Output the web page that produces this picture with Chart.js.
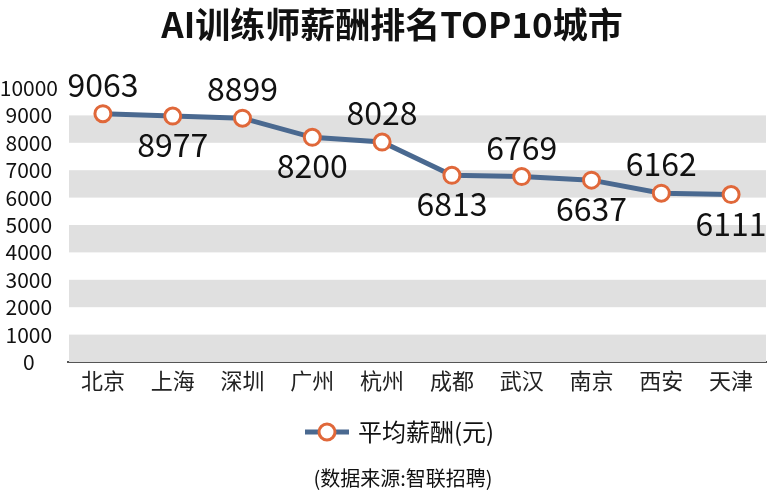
<!DOCTYPE html>
<html>
<head>
<meta charset="utf-8">
<script src="https://cdn.jsdelivr.net/npm/chart.js@4.4.0/dist/chart.umd.min.js"></script>
<style>
  html, body { margin: 0; padding: 0; background: #fff; overflow: hidden; }
  #grafico { display: block; }
</style>
</head>
<body>
<canvas id="grafico" width="768" height="501"></canvas>
<script>
const ciudades = ["北京", "上海", "深圳", "广州", "杭州", "成都", "武汉", "南京", "西安", "天津"];
const salarios = [9063, 8977, 8899, 8200, 8028, 6813, 6769, 6637, 6162, 6111];
const ticksY = [0, 1000, 2000, 3000, 4000, 5000, 6000, 7000, 8000, 9000, 10000];
const titulo = "AI训练师薪酬排名TOP10城市";
const serie = "平均薪酬(元)";
const fuente = "(数据来源:智联招聘)";

const FONT = "'Noto Sans CJK SC', 'Noto Sans', sans-serif";
const LINEA = "#4a6990";
const NARANJA = "#e0683a";

Chart.defaults.font.family = FONT;

// franjas grises alternas
const franjas = {
  id: "franjas",
  beforeDatasetsDraw(chart) {
    const { ctx, chartArea, scales } = chart;
    ctx.save();
    ctx.fillStyle = "#e0e0e0";
    for (let i = 0; i < ticksY.length - 1; i += 2) {
      const y1 = scales.y.getPixelForValue(ticksY[i]);
      const y2 = scales.y.getPixelForValue(ticksY[i + 1]);
      ctx.fillRect(chartArea.left + 1, y2, chartArea.right - chartArea.left - 1, y1 - y2);
    }
    ctx.restore();
  }
};

// etiquetas, titulo, leyenda y fuente
const textos = {
  id: "textos",
  afterDatasetsDraw(chart) {
    const { ctx } = chart;
    const meta = chart.getDatasetMeta(0);
    ctx.save();
    ctx.fillStyle = "#111";
    ctx.font = "32px " + FONT;
    ctx.textAlign = "center";
    ctx.textBaseline = "middle";
    meta.data.forEach((p, i) => {
      const dy = i % 2 === 0 ? -29 : 29;
      ctx.fillText(salarios[i], p.x, p.y + dy);
    });

    ctx.font = "bold 35px " + FONT;
    ctx.fillText(titulo, 392, 25);

    // leyenda
    ctx.strokeStyle = LINEA;
    ctx.lineWidth = 5;
    ctx.beginPath();
    ctx.moveTo(305, 432);
    ctx.lineTo(349, 432);
    ctx.stroke();
    ctx.beginPath();
    ctx.arc(327, 432, 8, 0, Math.PI * 2);
    ctx.fillStyle = "#fff";
    ctx.fill();
    ctx.strokeStyle = NARANJA;
    ctx.lineWidth = 3;
    ctx.stroke();
    ctx.fillStyle = "#111";
    ctx.textAlign = "left";
    ctx.font = "24px " + FONT;
    ctx.fillText(serie, 358, 432);

    ctx.textAlign = "center";
    ctx.font = "20px " + FONT;
    ctx.fillText(fuente, 403, 478);
    ctx.restore();
  }
};

new Chart(document.getElementById("grafico").getContext("2d"), {
  type: "line",
  data: {
    labels: ciudades,
    datasets: [{
      label: serie,
      data: salarios,
      borderColor: LINEA,
      borderWidth: 5,
      pointRadius: 8,
      pointBorderWidth: 3,
      pointBackgroundColor: "#fff",
      pointBorderColor: NARANJA,
      tension: 0,
      clip: false
    }]
  },
  options: {
    responsive: false,
    animation: false,
    layout: { autoPadding: false, padding: { top: 88, right: 2, bottom: 104, left: 0 } },
    plugins: {
      legend: { display: false },
      tooltip: { enabled: false }
    },
    scales: {
      x: {
        offset: true,
        afterFit(scale) {
          scale.height = 35;
          scale.paddingLeft = 0;
          scale.paddingRight = 0;
        },
        grid: { display: false, drawTicks: false, offset: true },
        border: { display: true, color: "#555", width: 2 },
        ticks: { color: "#222", font: { size: 22 }, padding: 5 }
      },
      y: {
        min: 0,
        max: 10000,
        afterFit(scale) { scale.width = 68; },
        afterBuildTicks(scale) { scale.ticks = ticksY.map(v => ({ value: v })); },
        grid: { display: false, drawTicks: false },
        border: { display: false },
        ticks: {
          color: "#111",
          font: { size: 21 },
          autoSkip: false,
          crossAlign: "center",
          padding: 10,
          callback: v => String(v)
        }
      }
    }
  },
  plugins: [franjas, textos]
});
</script>
</body>
</html>
